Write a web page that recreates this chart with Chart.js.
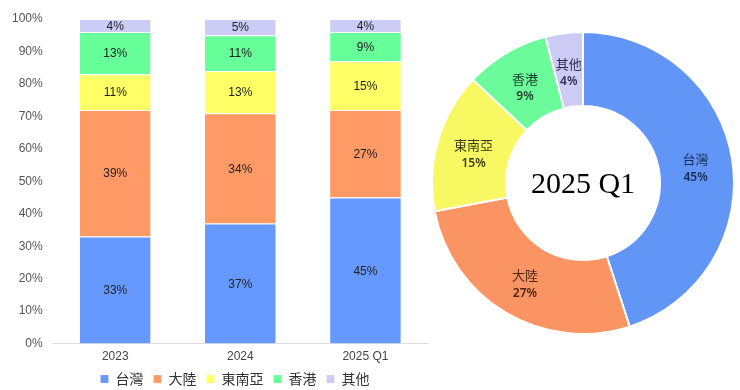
<!DOCTYPE html>
<html><head><meta charset="utf-8">
<script src="https://cdn.jsdelivr.net/npm/chart.js@4/dist/chart.umd.min.js"></script>
<style>
html,body{margin:0;padding:0;background:#fff;width:740px;height:390px;overflow:hidden;}
#bw{position:absolute;left:0;top:0;width:440px;height:390px;}
#dw{position:absolute;left:431px;top:31px;width:304px;height:304px;}
</style></head><body>
<div id="bw"><canvas id="bar"></canvas></div>
<div id="dw"><canvas id="donut"></canvas></div>
<script>
const categories = ['2023', '2024', '2025 Q1'];
const regions = ['台灣', '大陸', '東南亞', '香港', '其他'];
const taiwan = [33, 37, 45];
const mainland = [39, 34, 27];
const seAsia = [11, 13, 15];
const hongKong = [13, 11, 9];
const others = [4, 5, 4];
const donutTitle = '2025 Q1';
const donutValues = [45, 27, 15, 9, 4];
const yTicks = [0,10,20,30,40,50,60,70,80,90,100];

const barColors = ['#6699ff', '#ff9966', '#ffff66', '#66ff99', '#ccccf7'];
const donutColors = ['#6196f6', '#fb9463', '#f8f862', '#6bfb9a', '#cbcbf5'];
const donutTextColors = ['#1c2b55', '#4a2616', '#3a3a14', '#1d3d28', '#2c2c55'];
const font = '"Noto Sans CJK TC","Noto Sans CJK SC","Noto Sans",sans-serif';

const seriesValues = [taiwan, mainland, seAsia, hongKong, others];

const barLabelPlugin = {
  id: 'barLabels',
  beforeLayout(chart) {
    const lg = chart.legend;
    if (lg && !lg._patched) {
      const f = lg.fit.bind(lg);
      lg.fit = function () { f(); this.height -= 14; };
      lg._patched = true;
    }
  },
  afterLayout(chart) {
    const lg = chart.legend;
    if (lg) { lg.left += 20; lg.right += 20; lg.top -= 8; lg.height += 8; }
  },
  afterDatasetsDraw(chart) {
    const ctx = chart.ctx;
    ctx.save();
    ctx.font = '12px "Liberation Sans", Arial, sans-serif';
    ctx.fillStyle = '#222';
    ctx.textAlign = 'center';
    ctx.textBaseline = 'middle';
    chart.data.datasets.forEach((ds, i) => {
      chart.getDatasetMeta(i).data.forEach((el, j) => {
        const p = el.getProps(['x','y','base'], true);
        ctx.fillText(ds.data[j] + '%', p.x, (p.y + p.base) / 2 + 1);
      });
    });
    ctx.restore();
  }
};

new Chart(document.getElementById('bar'), {
  type: 'bar',
  data: {
    labels: categories,
    datasets: regions.map((r, i) => ({
      label: r,
      data: seriesValues[i],
      backgroundColor: barColors[i],
      borderColor: 'rgba(255,255,255,0.7)',
      borderWidth: {top: 1, bottom: 0, left: 0, right: 0},
      borderSkipped: false,
      barPercentage: 0.565,
      categoryPercentage: 1.0
    }))
  },
  options: {
    responsive: true, maintainAspectRatio: false, animation: false,
    layout: {padding: {left: 2, right: 12, top: 19, bottom: 0}},
    scales: {
      x: {
        stacked: true,
        grid: {display: false, drawTicks: false},
        border: {display: true, color: '#dddddd'},
        ticks: {color: '#444', font: {size: 12, family: '"Liberation Sans", Arial'}, padding: 6}
      },
      y: {
        stacked: true, min: 0, max: 100,
        afterBuildTicks(axis) { axis.ticks = yTicks.map(v => ({value: v})); },
        grid: {display: false, drawTicks: false},
        border: {display: false},
        ticks: {color: '#555', font: {size: 12, family: '"Liberation Sans", Arial'}, padding: 10,
          callback: v => v + '%'}
      }
    },
    plugins: {
      legend: {
        position: 'bottom',
        labels: {boxWidth: 8, boxHeight: 8, color: '#333', padding: 10,
          font: {size: 14, family: font}}
      },
      tooltip: {enabled: false}
    }
  },
  plugins: [barLabelPlugin]
});

const donutLabelPlugin = {
  id: 'donutLabels',
  afterDatasetsDraw(chart) {
    const ctx = chart.ctx;
    const meta = chart.getDatasetMeta(0);
    ctx.save();
    ctx.textAlign = 'center';
    ctx.textBaseline = 'middle';
    meta.data.forEach((arc, i) => {
      const p = arc.getProps(['x','y','startAngle','endAngle','innerRadius','outerRadius'], true);
      const a = (p.startAngle + p.endAngle) / 2;
      const r = (p.innerRadius + p.outerRadius) / 2;
      const x = p.x + Math.cos(a) * r;
      const y = p.y + Math.sin(a) * r + 3;
      ctx.fillStyle = donutTextColors[i];
      ctx.font = '13px ' + font;
      ctx.fillText(regions[i], x, y - 9);
      ctx.font = '600 12px "Noto Sans", sans-serif';
      ctx.fillText(donutValues[i] + '%', x, y + 9);
    });
    const c = meta.data[0];
    ctx.fillStyle = '#000';
    ctx.font = '30px "Liberation Serif", "DejaVu Serif", serif';
    ctx.fillText(donutTitle, c.x, c.y + 2);
    ctx.restore();
  }
};

new Chart(document.getElementById('donut'), {
  type: 'doughnut',
  data: {
    labels: regions,
    datasets: [{
      data: donutValues,
      backgroundColor: donutColors,
      borderColor: '#ffffff',
      borderWidth: 2
    }]
  },
  options: {
    responsive: true, maintainAspectRatio: false, animation: false,
    cutout: '51%',
    layout: {padding: 0},
    plugins: {legend: {display: false}, tooltip: {enabled: false}}
  },
  plugins: [donutLabelPlugin]
});
</script>
</body></html>
